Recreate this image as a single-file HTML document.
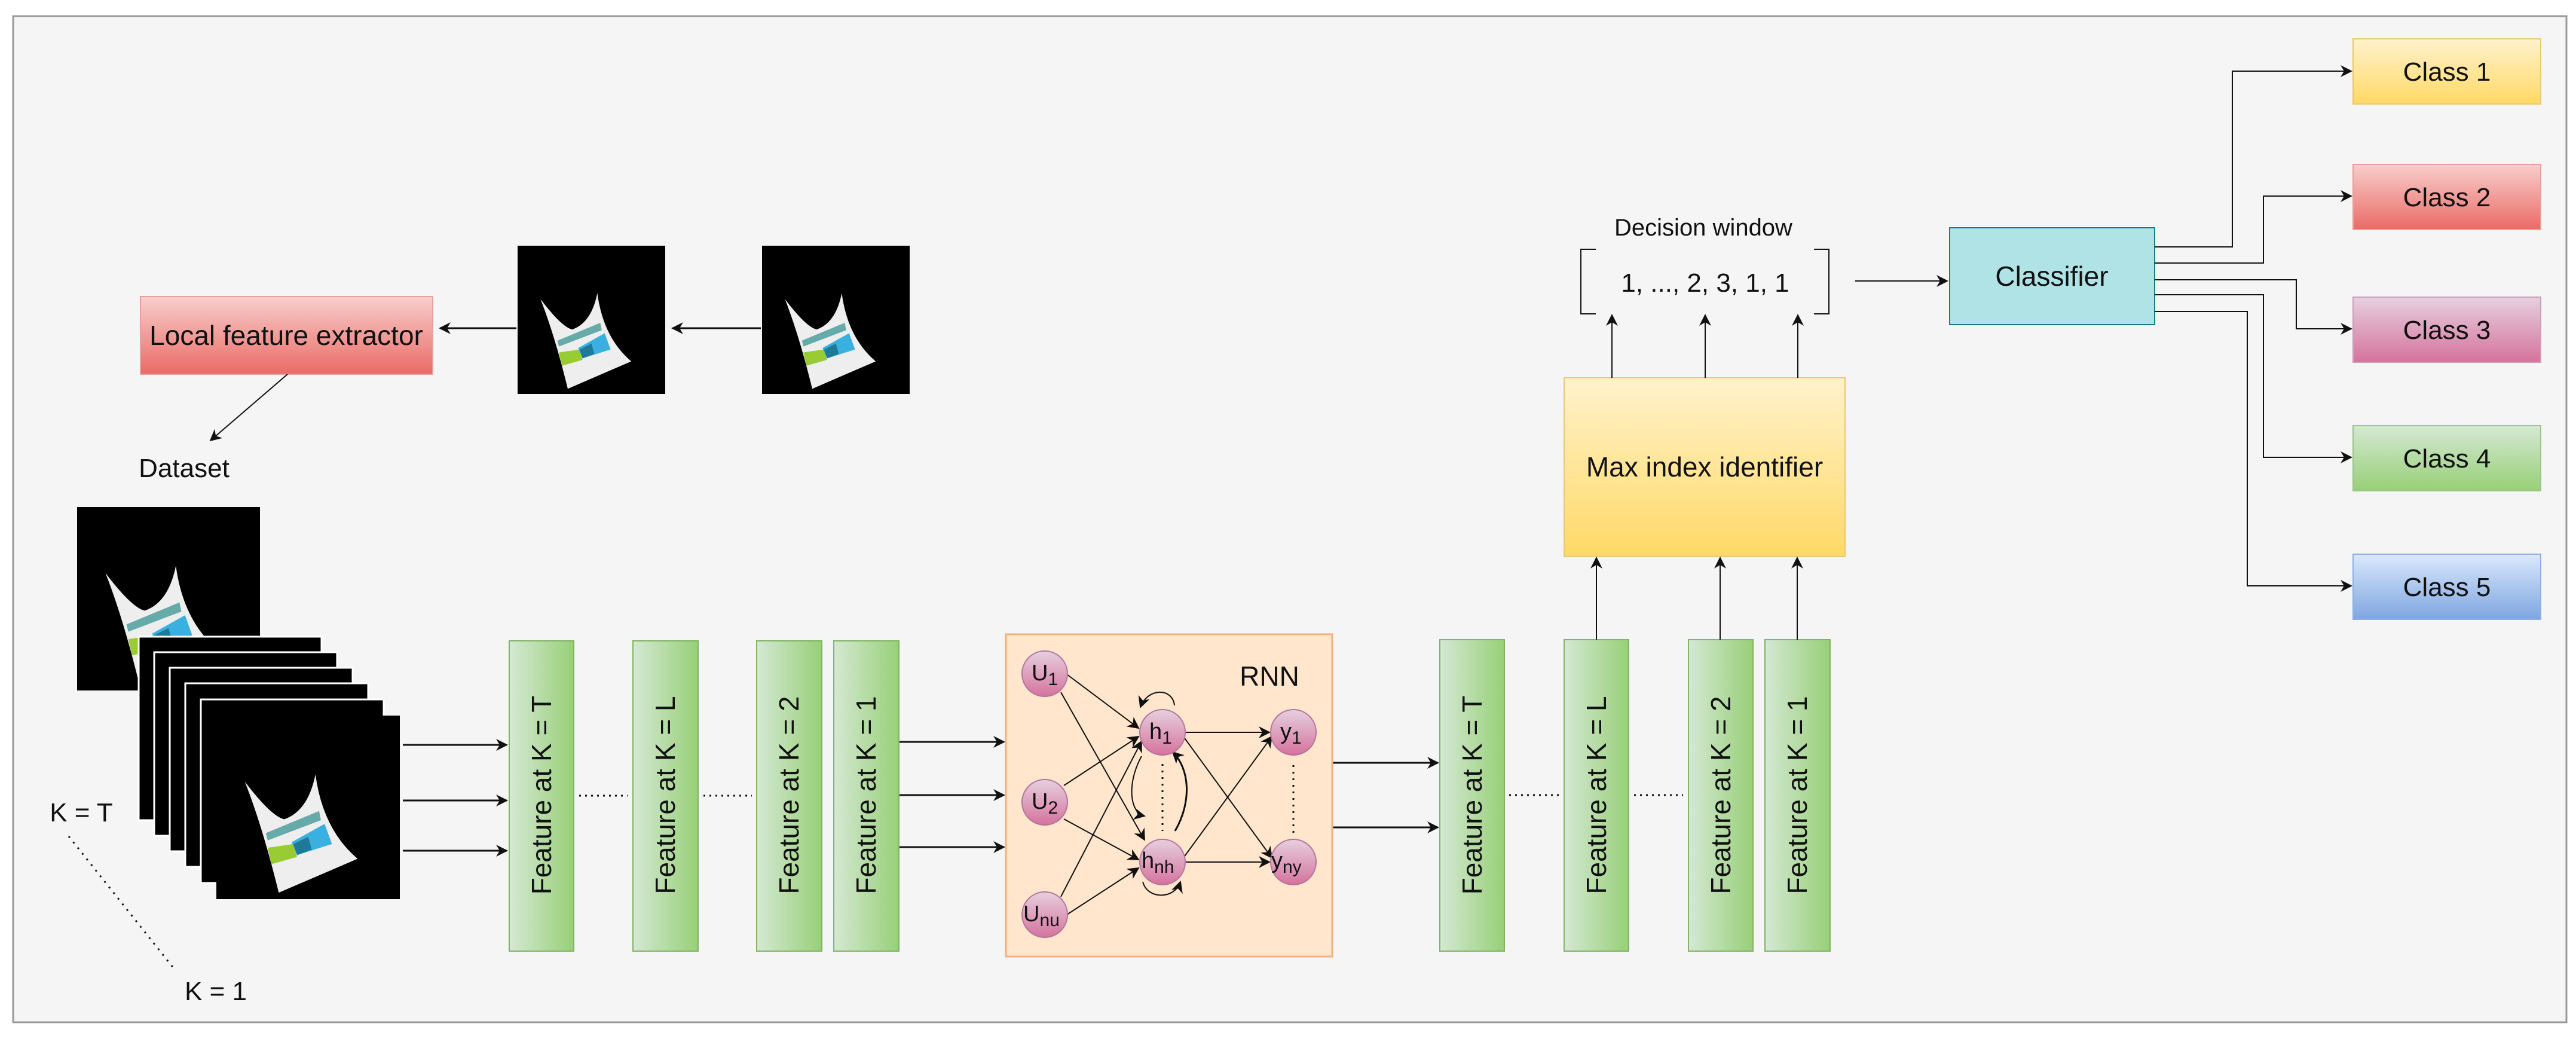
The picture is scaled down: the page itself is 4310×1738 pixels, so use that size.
<!DOCTYPE html>
<html><head><meta charset="utf-8"><style>html,body{margin:0;padding:0;background:#fff}svg{display:block}text{font-family:"Liberation Sans",sans-serif;fill:#111}</style></head>
<body>
<svg width="4310" height="1738" viewBox="0 0 4310 1738" xmlns="http://www.w3.org/2000/svg">
<defs>
<marker id="a" viewBox="0 0 10 10" refX="9" refY="5" markerWidth="7" markerHeight="7" markerUnits="userSpaceOnUse" orient="auto"><path d="M0,0 L10,5 L0,10 L3,5 Z" fill="#111"/></marker>
<marker id="b" viewBox="0 0 10 10" refX="9" refY="5" markerWidth="20" markerHeight="20" markerUnits="userSpaceOnUse" orient="auto"><path d="M0,0 L10,5 L0,10 L3,5 Z" fill="#111"/></marker>
<linearGradient id="gRed" x1="0" y1="0" x2="0" y2="1"><stop offset="0" stop-color="#f8cecc"/><stop offset="1" stop-color="#ea6b66"/></linearGradient>
<linearGradient id="gYel" x1="0" y1="0" x2="0" y2="1"><stop offset="0" stop-color="#fff2cc"/><stop offset="1" stop-color="#ffd966"/></linearGradient>
<linearGradient id="gPink" x1="0" y1="0" x2="0" y2="1"><stop offset="0" stop-color="#e6d0de"/><stop offset="1" stop-color="#d5739d"/></linearGradient>
<linearGradient id="gGrnV" x1="0" y1="0" x2="0" y2="1"><stop offset="0" stop-color="#d5e8d4"/><stop offset="1" stop-color="#97d077"/></linearGradient>
<linearGradient id="gBlue" x1="0" y1="0" x2="0" y2="1"><stop offset="0" stop-color="#dae8fc"/><stop offset="1" stop-color="#7ea6e0"/></linearGradient>
<linearGradient id="gGrnH" x1="0" y1="0" x2="1" y2="0"><stop offset="0" stop-color="#d5e8d4"/><stop offset="1" stop-color="#97d077"/></linearGradient>
<symbol id="img" viewBox="0 0 100 100" preserveAspectRatio="none">
<rect width="100" height="100" fill="#000"/>
<path d="M15.5,36 Q30,55 37,56.5 Q50,52 54,32 Q58,62 77,78 L34,96.5 Q25,60 15.5,36 Z" fill="#eee"/>
<path d="M28,72 L42,70 L44,77 L30,81 Z" fill="#9c3"/>
<path d="M41,69 L59,59 L63,70 L44,76 Z" fill="#3ab0e0"/>
<path d="M42,70 L50,66 L52,73 L44,76 Z" fill="#1f7a99"/>
<path d="M27,64 L56,52 L57,57 L28,68 Z" fill="#6aa"/>
</symbol>
</defs>
<rect x="22" y="27" width="4272" height="1683" fill="#f5f5f5" stroke="#999" stroke-width="3"/>

<!-- top pipeline -->
<rect x="235" y="496" width="489" height="130" fill="url(#gRed)" stroke="#e6a09d" stroke-width="2"/>
<text x="479" y="577" font-size="46" text-anchor="middle">Local feature extractor</text>
<use href="#img" x="866" y="411" width="247" height="248"/>
<use href="#img" x="1275" y="411" width="247" height="248"/>
<line x1="1273" y1="549" x2="1125" y2="549" stroke="#111" stroke-width="3" marker-end="url(#b)"/>
<line x1="864" y1="549" x2="736" y2="549" stroke="#111" stroke-width="3" marker-end="url(#b)"/>
<line x1="481" y1="626" x2="352" y2="737" stroke="#111" stroke-width="2" marker-end="url(#b)"/>
<text x="308" y="798" font-size="44" text-anchor="middle">Dataset</text>

<!-- dataset stack -->
<use href="#img" x="129" y="848" width="306" height="307"/>
<g stroke="#fff" stroke-width="3">
<rect x="232" y="1065" width="306" height="307" fill="#000"/>
<rect x="258" y="1091" width="306" height="307" fill="#000"/>
<rect x="284" y="1117" width="306" height="307" fill="#000"/>
<rect x="310" y="1143" width="306" height="307" fill="#000"/>
<rect x="336" y="1170" width="306" height="307" fill="#000"/>
</g>
<use href="#img" x="362" y="1197" width="307" height="307"/>
<text x="136" y="1374" font-size="44" text-anchor="middle">K = T</text>
<line x1="115" y1="1399" x2="294" y2="1624" stroke="#111" stroke-width="3" stroke-dasharray="3,9"/>
<text x="361" y="1673" font-size="44" text-anchor="middle">K = 1</text>

<g stroke="#111" stroke-width="3" marker-end="url(#b)">
<line x1="674" y1="1246" x2="848" y2="1246"/>
<line x1="674" y1="1339" x2="848" y2="1339"/>
<line x1="674" y1="1423" x2="848" y2="1423"/>
<line x1="1504" y1="1241" x2="1680" y2="1241"/>
<line x1="1504" y1="1330" x2="1680" y2="1330"/>
<line x1="1504" y1="1417" x2="1680" y2="1417"/>
<line x1="2230" y1="1276" x2="2406" y2="1276"/>
<line x1="2230" y1="1384" x2="2406" y2="1384"/>
</g>

<!-- feature bars -->
<g stroke="#82b366" stroke-width="2" fill="url(#gGrnH)">
<rect x="852" y="1072" width="108" height="519"/>
<rect x="1059" y="1072" width="109" height="519"/>
<rect x="1266" y="1072" width="109" height="519"/>
<rect x="1395" y="1072" width="109" height="519"/>
<rect x="2409" y="1070" width="108" height="521"/>
<rect x="2617" y="1070" width="108" height="521"/>
<rect x="2825" y="1070" width="108" height="521"/>
<rect x="2953" y="1070" width="109" height="521"/>
</g>
<g font-size="46" text-anchor="middle">
<text transform="translate(922,1330) rotate(-90)">Feature at K = T</text>
<text transform="translate(1129,1330) rotate(-90)">Feature at K = L</text>
<text transform="translate(1336,1330) rotate(-90)">Feature at K = 2</text>
<text transform="translate(1465,1330) rotate(-90)">Feature at K = 1</text>
<text transform="translate(2479,1330) rotate(-90)">Feature at K = T</text>
<text transform="translate(2687,1330) rotate(-90)">Feature at K = L</text>
<text transform="translate(2895,1330) rotate(-90)">Feature at K = 2</text>
<text transform="translate(3023,1330) rotate(-90)">Feature at K = 1</text>
</g>
<g stroke="#111" stroke-width="3" stroke-dasharray="3,7">
<line x1="969" y1="1331" x2="1050" y2="1331"/>
<line x1="1177" y1="1331" x2="1258" y2="1331"/>
<line x1="2525" y1="1330" x2="2608" y2="1330"/>
<line x1="2734" y1="1330" x2="2816" y2="1330"/>
</g>

<!-- RNN -->
<rect x="1683" y="1061" width="546" height="539" fill="#ffe6cc" stroke="#f5b07a" stroke-width="3"/>
<text x="2124" y="1147" font-size="46" text-anchor="middle">RNN</text>
<g stroke="#111" stroke-width="2" marker-end="url(#b)">
<line x1="1785" y1="1128" x2="1905" y2="1218"/>
<line x1="1775" y1="1158" x2="1915" y2="1405"/>
<line x1="1780" y1="1314" x2="1905" y2="1232"/>
<line x1="1780" y1="1370" x2="1905" y2="1438"/>
<line x1="1775" y1="1500" x2="1910" y2="1240"/>
<line x1="1785" y1="1530" x2="1905" y2="1452"/>
<line x1="1983" y1="1225" x2="2124" y2="1225"/>
<line x1="1983" y1="1442" x2="2124" y2="1442"/>
<line x1="1980" y1="1232" x2="2128" y2="1435"/>
<line x1="1980" y1="1435" x2="2128" y2="1232"/>
<path d="M1965,1180 C1962,1150 1920,1150 1908,1183" fill="none"/>
<path d="M1912,1475 C1920,1505 1965,1505 1975,1475" fill="none"/>
<path d="M1910,1265 C1885,1310 1890,1360 1915,1365" fill="none"/>
<path d="M1966,1390 C1995,1340 1990,1285 1962,1258" fill="none" stroke-width="3"/>
</g>
<g stroke="#111" stroke-width="3" stroke-dasharray="3,8">
<line x1="1945" y1="1278" x2="1945" y2="1390"/>
<line x1="2164" y1="1280" x2="2164" y2="1395"/>
</g>
<g fill="url(#gPink)" stroke="#b5739d" stroke-width="2">
<circle cx="1748" cy="1127" r="38"/>
<circle cx="1748" cy="1342" r="38"/>
<circle cx="1748" cy="1530" r="38"/>
<circle cx="1945" cy="1225" r="38"/>
<circle cx="1945" cy="1442" r="38"/>
<circle cx="2164" cy="1225" r="38"/>
<circle cx="2164" cy="1442" r="38"/>
</g>
<g font-size="38">
<text x="1726" y="1138">U<tspan font-size="30" dy="8">1</tspan></text>
<text x="1726" y="1353">U<tspan font-size="30" dy="8">2</tspan></text>
<text x="1712" y="1541">U<tspan font-size="30" dy="8">nu</tspan></text>
<text x="1923" y="1236">h<tspan font-size="30" dy="8">1</tspan></text>
<text x="1910" y="1452">h<tspan font-size="30" dy="8">nh</tspan></text>
<text x="2142" y="1236">y<tspan font-size="30" dy="8">1</tspan></text>
<text x="2127" y="1452">y<tspan font-size="30" dy="8">ny</tspan></text>
</g>

<!-- max index -->
<rect x="2617" y="632" width="470" height="299" fill="url(#gYel)" stroke="#e8c873" stroke-width="2"/>
<text x="2852" y="797" font-size="46" text-anchor="middle">Max index identifier</text>
<g stroke="#111" stroke-width="2" marker-end="url(#b)">
<line x1="2671" y1="1070" x2="2671" y2="933"/>
<line x1="2878" y1="1070" x2="2878" y2="933"/>
<line x1="3007" y1="1070" x2="3007" y2="933"/>
<line x1="2697" y1="632" x2="2697" y2="527"/>
<line x1="2853" y1="632" x2="2853" y2="527"/>
<line x1="3008" y1="632" x2="3008" y2="527"/>
<line x1="3104" y1="470" x2="3258" y2="470"/>
</g>
<path d="M2670,417 L2645,417 L2645,525 L2670,525 M3035,417 L3060,417 L3060,525 L3035,525" fill="none" stroke="#111" stroke-width="2"/>
<text x="2850" y="394" font-size="40" text-anchor="middle">Decision window</text>
<text x="2853" y="488" font-size="44" text-anchor="middle">1, ..., 2, 3, 1, 1</text>

<!-- classifier -->
<rect x="3262" y="381" width="343" height="162" fill="#b0e3e6" stroke="#0e8088" stroke-width="2"/>
<text x="3433" y="478" font-size="46" text-anchor="middle">Classifier</text>
<g stroke="#111" stroke-width="2" fill="none" marker-end="url(#b)">
<path d="M3605,413 L3735,413 L3735,119 L3934,119"/>
<path d="M3605,440 L3787,440 L3787,328 L3934,328"/>
<path d="M3605,468 L3842,468 L3842,550 L3934,550"/>
<path d="M3605,493 L3787,493 L3787,765 L3934,765"/>
<path d="M3605,521 L3760,521 L3760,980 L3934,980"/>
</g>
<rect x="3937" y="65" width="314" height="109" fill="url(#gYel)" stroke="#e8c873" stroke-width="2"/>
<rect x="3937" y="275" width="314" height="109" fill="url(#gRed)" stroke="#e6a09d" stroke-width="2"/>
<rect x="3937" y="497" width="314" height="109" fill="url(#gPink)" stroke="#c9a0b8" stroke-width="2"/>
<rect x="3937" y="712" width="314" height="109" fill="url(#gGrnV)" stroke="#9cc58a" stroke-width="2"/>
<rect x="3937" y="927" width="314" height="109" fill="url(#gBlue)" stroke="#8fb0de" stroke-width="2"/>
<g font-size="44" text-anchor="middle">
<text x="4094" y="135">Class 1</text>
<text x="4094" y="345">Class 2</text>
<text x="4094" y="567">Class 3</text>
<text x="4094" y="782">Class 4</text>
<text x="4094" y="997">Class 5</text>
</g>
</svg>
</body></html>
